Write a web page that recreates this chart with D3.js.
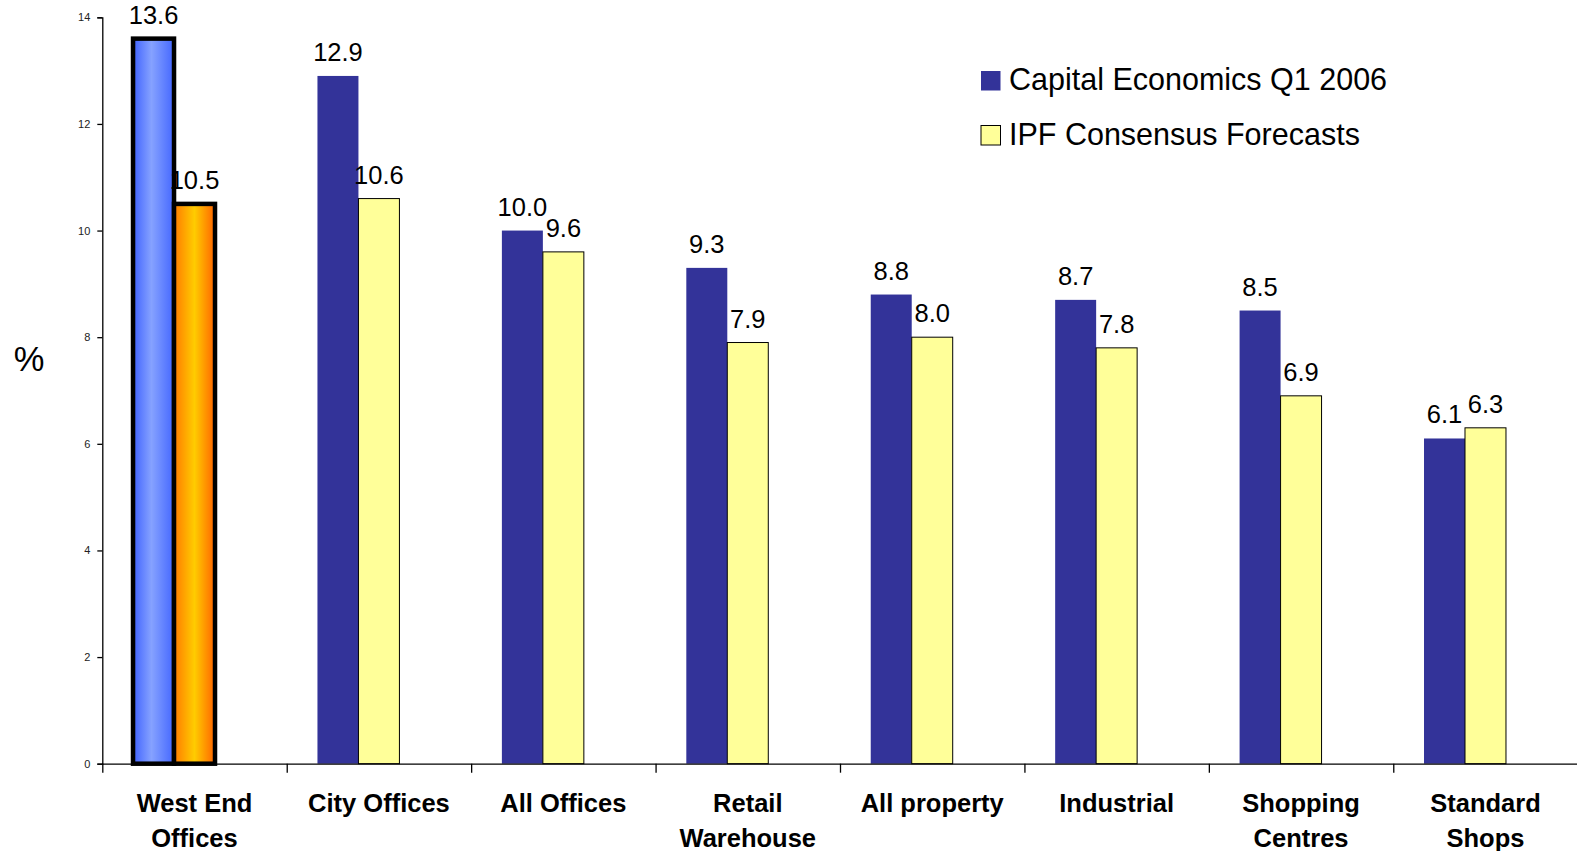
<!DOCTYPE html>
<html>
<head>
<meta charset="utf-8">
<script src="https://cdn.jsdelivr.net/npm/d3@7"></script>
<style>
  html, body { margin: 0; padding: 0; background: #fff; }
  svg { display: block; font-family: Arial, "Liberation Sans", sans-serif; }
</style>
</head>
<body>
<svg id="chart" width="1577" height="851"></svg>
<script>
// Forecast total returns by property sector (%)
const categories = [
  ["West End", "Offices"],
  ["City Offices"],
  ["All Offices"],
  ["Retail", "Warehouse"],
  ["All property"],
  ["Industrial"],
  ["Shopping", "Centres"],
  ["Standard", "Shops"]
];
const capitalEconomics = [13.6, 12.9, 10.0, 9.3, 8.8, 8.7, 8.5, 6.1];
const ipfConsensus     = [10.5, 10.6, 9.6, 7.9, 8.0, 7.8, 6.9, 6.3];
const seriesNames = ["Capital Economics Q1 2006", "IPF Consensus Forecasts"];
const yTicks = [0, 2, 4, 6, 8, 10, 12, 14];

const svg = d3.select("#chart");
const defs = svg.append("defs");

const plotLeft = 102.3, plotRight = 1577.7, plotTop = 17.3, plotBottom = 763.7;

const catKeys = categories.map(c => c.join(" "));
const x0 = d3.scaleBand().domain(catKeys).range([plotLeft, plotRight]).padding(0);
// three slots per group; the third is left empty
const x1 = d3.scaleBand().domain(["ce", "ipf", "spare"])
  .range([0, x0.bandwidth()]).paddingInner(0).paddingOuter(0.75);
const y = d3.scaleLinear().domain([0, 14]).range([plotBottom, plotTop]);

// horizontal gradients for the highlighted group
function hGrad(id, stops) {
  const g = defs.append("linearGradient").attr("id", id)
    .attr("x1", "0%").attr("x2", "100%").attr("y1", "0%").attr("y2", "0%");
  stops.forEach(([o, c]) => g.append("stop").attr("offset", o).attr("stop-color", c));
}
hGrad("gBlue", [["0%", "#3f62ff"], ["45%", "#86a2ff"], ["100%", "#4467ff"]]);
hGrad("gOrange", [["0%", "#ff7a00"], ["50%", "#ffcc00"], ["100%", "#ff6400"]]);

const rows = catKeys.map((k, i) => ({
  key: k, lines: categories[i], i,
  vals: [
    { s: "ce", v: capitalEconomics[i] },
    { s: "ipf", v: ipfConsensus[i] }
  ]
}));

// bars
const groups = svg.append("g").selectAll("g").data(rows).join("g")
  .attr("transform", d => `translate(${x0(d.key)},0)`);

groups.selectAll("rect").data(d => d.vals.map(v => ({ ...v, i: d.i }))).join("rect")
  .attr("x", d => x1(d.s))
  .attr("y", d => y(d.v))
  .attr("width", x1.bandwidth())
  .attr("height", d => y(0) - y(d.v))
  .attr("fill", d => d.i === 0 ? (d.s === "ce" ? "url(#gBlue)" : "url(#gOrange)")
                               : (d.s === "ce" ? "#333399" : "#ffff99"))
  .attr("stroke", d => d.i === 0 ? "#000" : (d.s === "ipf" ? "#000" : "none"))
  .attr("stroke-width", d => d.i === 0 ? 4.5 : 1);

// value labels
groups.selectAll("text.val").data(d => d.vals).join("text")
  .attr("class", "val")
  .attr("x", d => x1(d.s) + x1.bandwidth() / 2)
  .attr("y", d => y(d.v) - 15)
  .attr("text-anchor", "middle")
  .attr("font-size", 25.5)
  .attr("fill", "#000")
  .text(d => d.v.toFixed(1));

// y axis
const yAxis = svg.append("g").attr("transform", `translate(${plotLeft},0)`)
  .call(d3.axisLeft(y).tickValues(yTicks).tickSize(5).tickPadding(7).tickFormat(d3.format("d")));
yAxis.select(".domain").attr("stroke", "#000").attr("stroke-width", 1.3);
yAxis.selectAll(".tick line").attr("stroke", "#000").attr("stroke-width", 1.3);
yAxis.selectAll(".tick text").attr("font-size", 11).attr("fill", "#222")
  .attr("font-family", "Arial, 'Liberation Sans', sans-serif");

// x axis with ticks at group boundaries
const boundaries = catKeys.map(k => x0(k)).concat([plotRight]);
const xb = d3.scaleLinear().domain([plotLeft, plotRight]).range([plotLeft, plotRight]);
const xAxis = svg.append("g").attr("transform", `translate(0,${plotBottom})`)
  .call(d3.axisBottom(xb).tickValues(boundaries).tickSize(9).tickFormat(""));
xAxis.select(".domain").attr("stroke", "#000").attr("stroke-width", 1.3)
  .attr("d", `M${plotLeft},0.5H${plotRight}`);
xAxis.selectAll(".tick line").attr("stroke", "#000").attr("stroke-width", 1.3);

// category labels
const catLabels = svg.append("g").selectAll("text").data(rows).join("text")
  .attr("x", d => x0(d.key) + x0.bandwidth() / 2)
  .attr("y", 812)
  .attr("text-anchor", "middle")
  .attr("font-size", 25.5)
  .attr("font-weight", "bold")
  .attr("fill", "#000");
catLabels.selectAll("tspan").data(d => d.lines.map((l, j) => ({ l, j, cx: x0(d.key) + x0.bandwidth() / 2 })))
  .join("tspan")
  .attr("x", d => d.cx)
  .attr("dy", d => d.j === 0 ? 0 : 34.5)
  .text(d => d.l);

// y axis title
svg.append("text").attr("x", 29).attr("y", 370.5).attr("text-anchor", "middle")
  .attr("font-size", 34.5).attr("fill", "#000").text("%");

// legend
const legend = svg.append("g").attr("transform", "translate(981,71)");
const legendColors = ["#333399", "#ffff99"];
seriesNames.forEach((name, i) => {
  const g = legend.append("g").attr("transform", `translate(0,${i * 54.5})`);
  g.append("rect").attr("x", 0).attr("y", 0).attr("width", 19.5).attr("height", 19.5)
    .attr("fill", legendColors[i])
    .attr("stroke", i === 1 ? "#000" : "none").attr("stroke-width", 1);
  g.append("text").attr("x", 28).attr("y", 19).attr("font-size", 30.5)
    .attr("fill", "#000").text(name);
});
</script>
</body>
</html>
